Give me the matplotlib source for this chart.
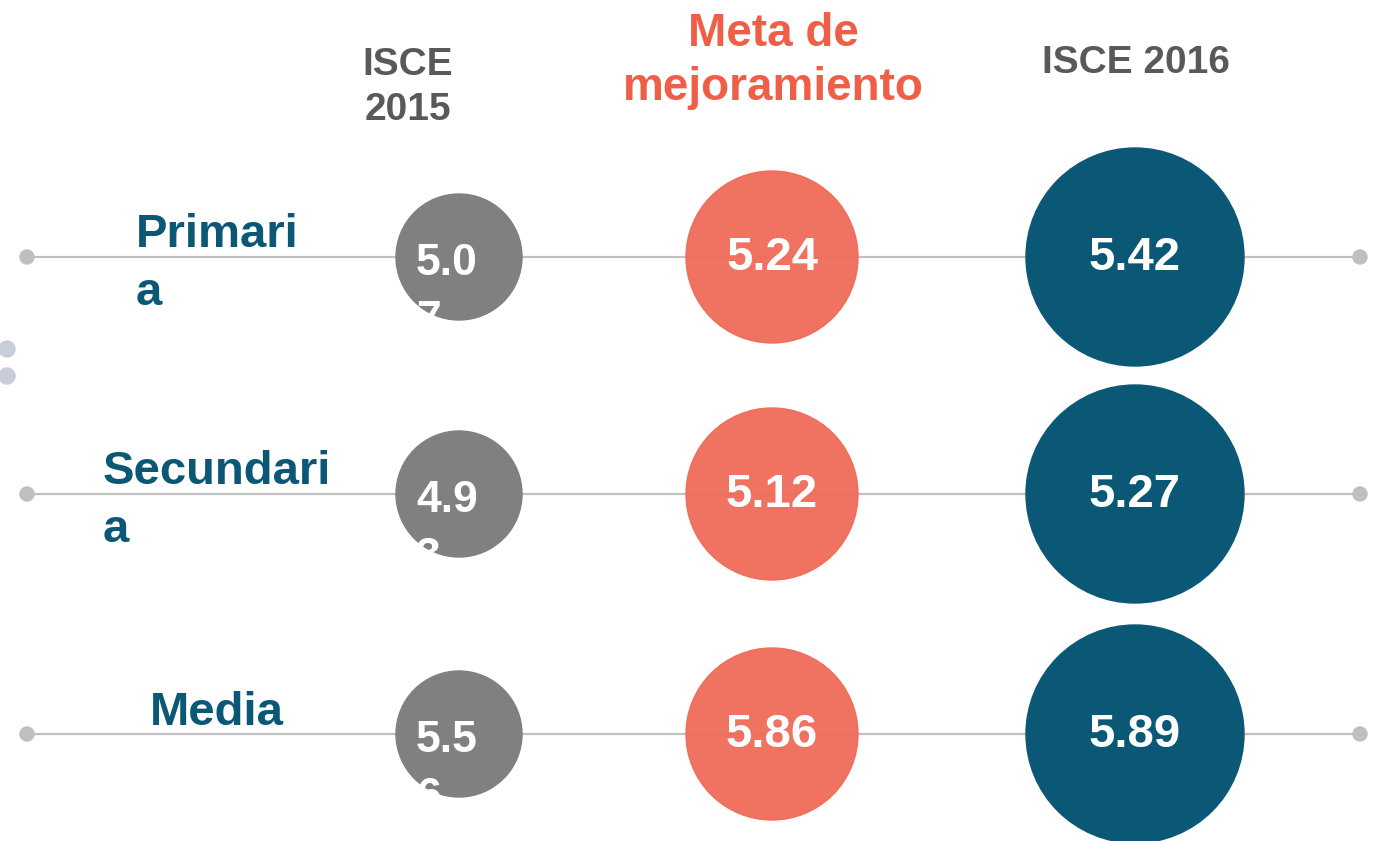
import matplotlib
matplotlib.use('Agg')
import matplotlib.pyplot as plt
from matplotlib.patches import Circle

plt.rcParams['font.family'] = ['Liberation Sans', 'DejaVu Sans']

# datos
niveles = ['Primari\na', 'Secundari\na', 'Media']
isce_2015 = ['5.07', '4.93', '5.56']
meta = ['5.24', '5.12', '5.86']
isce_2016 = ['5.42', '5.27', '5.89']
encabezados = ['ISCE\n2015', 'Meta de\nmejoramiento', 'ISCE 2016']

# colores
gris = '#808080'
naranja = '#F06C59'
azul = '#0B5876'
linea = '#C0C0C0'

fig = plt.figure(figsize=(13.8, 8.41), dpi=100)
ax = fig.add_axes([0, 0, 1, 1])
ax.set_xlim(0, 1380)
ax.set_ylim(841, 0)
ax.axis('off')

filas = [257, 494, 734]
x_cols = [459, 772, 1135]
radios = [63, 86, 109]

# puntos decorativos a la izquierda
for y in [349, 376]:
    ax.add_patch(Circle((7, y), 8, color='#C8CCDB', zorder=1))

# nota: con va='baseline' matplotlib usa la linea base de la ULTIMA linea
for i, y in enumerate(filas):
    ax.plot([27, 1360], [y, y], color=linea, lw=1.6, zorder=1)
    for xe in [27, 1360]:
        ax.add_patch(Circle((xe, y), 7, color='#BFBFBF', zorder=1))

    # etiqueta del nivel
    n = niveles[i].count('\n')
    ax.text(217, y - 9 + 57 * n, niveles[i], ha='center', va='baseline', multialignment='left',
            fontsize=34, fontweight='bold', color=azul, linespacing=1.4, zorder=3)

    # ISCE 2015 (texto recortado por el circulo)
    c = Circle((x_cols[0], y), radios[0], color=gris, zorder=2)
    ax.add_patch(c)
    v = isce_2015[i]
    t = ax.text(416, y + 17 + 58, v[:3] + '\n' + v[3:], ha='left', va='baseline',
                fontsize=32, fontweight='bold', color='white', linespacing=1.5, zorder=3)
    t.set_clip_path(c)

    # meta
    ax.add_patch(Circle((x_cols[1], y), radios[1], color=naranja, alpha=0.96, zorder=2))
    ax.text(x_cols[1], y + 1, meta[i], ha='center', va='center',
            fontsize=34, fontweight='bold', color='white', zorder=3)

    # ISCE 2016
    ax.add_patch(Circle((x_cols[2], y), radios[2], color=azul, zorder=2))
    ax.text(x_cols[2], y + 1, isce_2016[i], ha='center', va='center',
            fontsize=34, fontweight='bold', color='white', zorder=3)

# encabezados
ax.text(408, 120, encabezados[0], ha='center', va='baseline', fontsize=28,
        fontweight='bold', color='#595959', linespacing=1.33)
ax.text(773, 100, encabezados[1], ha='center', va='baseline', fontsize=33,
        fontweight='bold', color='#EF5F48', linespacing=1.28)
ax.text(1136, 73, encabezados[2], ha='center', va='baseline', fontsize=28,
        fontweight='bold', color='#595959')

fig.savefig('out.png', dpi=100)
